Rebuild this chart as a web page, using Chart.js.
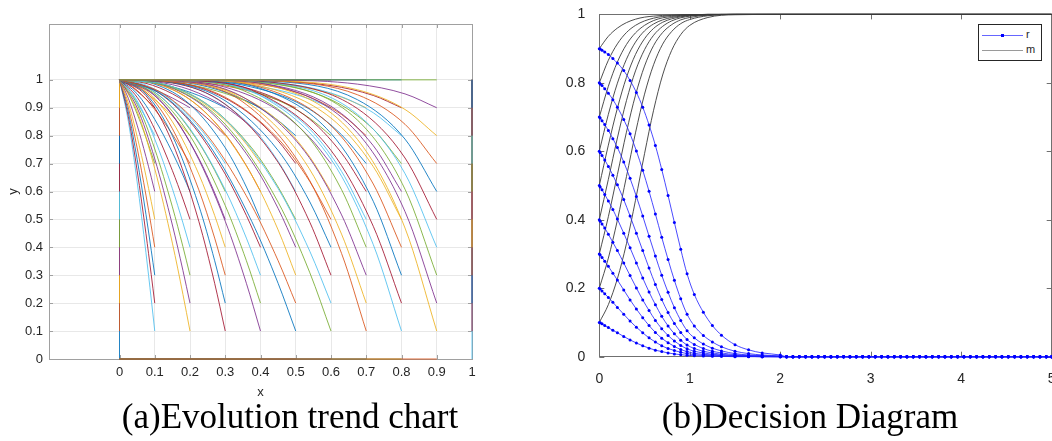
<!DOCTYPE html>
<html>
<head>
<meta charset="utf-8">
<script src="https://cdn.jsdelivr.net/npm/chart.js@4.4.1/dist/chart.umd.min.js"></script>
<style>
  html, body { margin: 0; padding: 0; background: #fff; width: 1052px; height: 441px; overflow: hidden; }
  body { position: relative; }
  .panel { position: absolute; top: 0; }
  #leftPanel { left: 0; }
  #rightPanel { left: 550px; }
  .caption {
    position: absolute; top: 399px; width: 400px; text-align: center;
    font-family: "Liberation Serif", "Times New Roman", serif; font-size: 35px; line-height: 35px;
    color: #000; white-space: nowrap;
  }
  #legend {
    position: absolute; left: 978px; top: 24px; width: 64px; height: 37px; box-sizing: border-box;
    border: 1px solid #262626; background: #fff;
    font-family: "Liberation Sans", Arial, sans-serif; font-size: 11px; color: #262626;
  }
  #legend .line { position: absolute; left: 3px; width: 41px; height: 0; }
  #legend .dot { position: absolute; left: 22px; top: 8.5px; width: 3px; height: 3px; background: #0000ff; }
  #legend .label { position: absolute; left: 47px; line-height: 11px; }
</style>
</head>
<body>
<div class="panel" id="leftPanel"><canvas id="evolutionChart" width="490" height="400"></canvas></div>
<div class="panel" id="rightPanel"><canvas id="decisionChart" width="520" height="400"></canvas></div>

<div id="legend">
  <div class="line" style="top:10px;border-top:1px solid #6666ff;"></div>
  <div class="dot"></div>
  <div class="label" style="top:4px;">r</div>
  <div class="line" style="top:25px;border-top:1px solid #9a9a9a;"></div>
  <div class="label" style="top:19px;">m</div>
</div>

<div class="caption" style="left:90px;">(a)Evolution trend chart</div>
<div class="caption" style="left:610px;">(b)Decision Diagram</div>

<script>
// ---- (a) evolution trend: start points on a 0..1 grid, every path runs to (0,1)
const gridSteps = [0, 0.1, 0.2, 0.3, 0.4, 0.5, 0.6, 0.7, 0.8, 0.9, 1];

// normalised drop (1 - y) / (1 - y0) along the path, read at these fractions of x0
const shapeFrac = [0, 0.25, 0.5, 0.75, 0.9, 1];
const dropK13 = [0, 0.165, 0.406, 0.688, 0.872, 1];
const dropK15 = [0, 0.125, 0.354, 0.650, 0.854, 1];
const dropK20 = [0, 0.063, 0.250, 0.563, 0.810, 1];
const dropK25 = [0, 0.031, 0.177, 0.487, 0.768, 1];
const dropK30 = [0, 0.016, 0.125, 0.422, 0.729, 1];
const dropK35 = [0, 0.008, 0.088, 0.365, 0.691, 1];
const dropK40 = [0, 0.004, 0.063, 0.316, 0.656, 1];
const dropK45 = [0, 0.002, 0.044, 0.274, 0.622, 1];
const dropK50 = [0, 0.001, 0.031, 0.237, 0.590, 1];
const dropK55 = [0, 0.000, 0.022, 0.206, 0.560, 1];
const dropK60 = [0, 0.000, 0.016, 0.178, 0.531, 1];
const dropK65 = [0, 0.000, 0.011, 0.154, 0.504, 1];

// which profile each interior start point follows (rows x0 = 0.1..0.9, cols y0 = 0.1..0.9)
const curveShape = [
  [0, 0, 0, 0, 0, 0, 0, 0, 0],
  [1, 1, 1, 1, 1, 1, 1, 1, 1],
  [2, 2, 2, 2, 2, 2, 2, 2, 2],
  [2, 2, 2, 2, 3, 3, 3, 3, 3],
  [2, 2, 3, 3, 3, 4, 4, 4, 4],
  [3, 3, 4, 4, 4, 5, 5, 5, 5],
  [5, 5, 5, 6, 6, 6, 6, 7, 7],
  [6, 6, 7, 7, 7, 8, 8, 8, 9],
  [8, 8, 9, 9, 9, 10, 10, 10, 11]
];

// ---- (b) decision diagram
const rTimes = [0, 0.01, 0.03, 0.06, 0.1, 0.15, 0.2, 0.27, 0.34, 0.41, 0.48, 0.55, 0.62, 0.69, 0.76, 0.83, 0.9, 0.97, 1.05, 1.15, 1.25, 1.35, 1.5, 1.65, 1.8, 2.0];
const r09 = [0.900, 0.899, 0.895, 0.890, 0.883, 0.871, 0.858, 0.836, 0.807, 0.772, 0.729, 0.677, 0.617, 0.547, 0.471, 0.392, 0.314, 0.242, 0.182, 0.130, 0.091, 0.063, 0.035, 0.020, 0.011, 0.005];
const r08 = [0.800, 0.797, 0.792, 0.783, 0.770, 0.751, 0.729, 0.693, 0.651, 0.601, 0.545, 0.483, 0.417, 0.349, 0.284, 0.223, 0.169, 0.124, 0.090, 0.062, 0.043, 0.029, 0.016, 0.009, 0.005, 0.002];
const r07 = [0.700, 0.697, 0.689, 0.678, 0.661, 0.637, 0.611, 0.569, 0.521, 0.468, 0.411, 0.352, 0.294, 0.238, 0.188, 0.143, 0.106, 0.076, 0.055, 0.037, 0.025, 0.017, 0.009, 0.005, 0.003, 0.001];
const r06 = [0.600, 0.596, 0.588, 0.575, 0.556, 0.530, 0.502, 0.459, 0.411, 0.361, 0.310, 0.259, 0.211, 0.167, 0.129, 0.097, 0.071, 0.050, 0.036, 0.024, 0.016, 0.011, 0.006, 0.003, 0.002, 0.001];
const r05 = [0.500, 0.496, 0.488, 0.474, 0.455, 0.430, 0.402, 0.361, 0.318, 0.274, 0.230, 0.189, 0.152, 0.118, 0.090, 0.067, 0.048, 0.034, 0.024, 0.016, 0.011, 0.007, 0.004, 0.002, 0.001, 0.001];
const r04 = [0.400, 0.396, 0.388, 0.376, 0.358, 0.334, 0.310, 0.274, 0.237, 0.201, 0.166, 0.135, 0.106, 0.082, 0.062, 0.046, 0.033, 0.023, 0.016, 0.011, 0.007, 0.005, 0.003, 0.001, 0.001, 0];
const r03 = [0.300, 0.297, 0.290, 0.279, 0.264, 0.244, 0.224, 0.195, 0.166, 0.139, 0.114, 0.091, 0.071, 0.054, 0.041, 0.030, 0.021, 0.015, 0.010, 0.007, 0.005, 0.003, 0.002, 0.001, 0, 0];
const r02 = [0.200, 0.198, 0.192, 0.184, 0.173, 0.159, 0.144, 0.124, 0.104, 0.086, 0.070, 0.055, 0.043, 0.032, 0.024, 0.018, 0.013, 0.009, 0.006, 0.004, 0.003, 0.002, 0.001, 0.001, 0, 0];
const r01 = [0.100, 0.099, 0.096, 0.091, 0.085, 0.077, 0.070, 0.059, 0.049, 0.040, 0.032, 0.025, 0.019, 0.015, 0.011, 0.008, 0.006, 0.004, 0.003, 0.002, 0.001, 0.001, 0, 0, 0, 0];
// solver steps after t = 2, where every r has settled at 0
const rTailTimes = [2.07, 2.14, 2.21, 2.28, 2.35, 2.42, 2.49, 2.56, 2.63, 2.7, 2.77, 2.84, 2.91, 2.98, 3.05, 3.12, 3.19, 3.26, 3.33, 3.4, 3.47, 3.54, 3.61, 3.68, 3.75, 3.82, 3.89, 3.96, 4.03, 4.1, 4.17, 4.24, 4.31, 4.38, 4.45, 4.52, 4.59, 4.66, 4.73, 4.8, 4.87, 4.94, 5.0];
const rTailValues = [0, 0, 0, 0, 0, 0, 0, 0, 0, 0, 0, 0, 0, 0, 0, 0, 0, 0, 0, 0, 0, 0, 0, 0, 0, 0, 0, 0, 0, 0, 0, 0, 0, 0, 0, 0, 0, 0, 0, 0, 0, 0, 0];

const mTimes = [0, 0.1, 0.2, 0.3, 0.4, 0.5, 0.6, 0.7, 0.8, 0.9, 1.0, 1.2, 1.5, 2.0, 5.0];
const m01 = [0.1, 0.152, 0.228, 0.330, 0.457, 0.593, 0.720, 0.823, 0.895, 0.941, 0.968, 0.991, 0.999, 1, 1];
const m02 = [0.2, 0.288, 0.399, 0.526, 0.654, 0.767, 0.853, 0.913, 0.950, 0.973, 0.985, 0.996, 1, 1, 1];
const m03 = [0.3, 0.409, 0.532, 0.656, 0.764, 0.849, 0.909, 0.947, 0.970, 0.984, 0.991, 0.998, 1, 1, 1];
const m04 = [0.4, 0.518, 0.639, 0.748, 0.835, 0.897, 0.939, 0.965, 0.981, 0.990, 0.995, 0.999, 1, 1, 1];
const m05 = [0.5, 0.618, 0.726, 0.816, 0.883, 0.929, 0.959, 0.977, 0.987, 0.993, 0.996, 0.999, 1, 1, 1];
const m06 = [0.6, 0.708, 0.799, 0.869, 0.919, 0.952, 0.972, 0.984, 0.991, 0.995, 0.998, 0.999, 1, 1, 1];
const m07 = [0.7, 0.790, 0.861, 0.912, 0.946, 0.968, 0.982, 0.990, 0.994, 0.997, 0.998, 1, 1, 1, 1];
const m08 = [0.8, 0.866, 0.914, 0.947, 0.968, 0.981, 0.989, 0.994, 0.997, 0.998, 0.999, 1, 1, 1, 1];
const m09 = [0.9, 0.936, 0.960, 0.976, 0.986, 0.992, 0.995, 0.997, 0.998, 0.999, 0.999, 1, 1, 1, 1];

const decisionXTicks = [0, 1, 2, 3, 4, 5];
const decisionYTicks = [0, 0.2, 0.4, 0.6, 0.8, 1];

// MATLAB default line colours, a little faded like the scan
const palette = ['rgba(0,114,189,0.85)', 'rgba(217,83,25,0.85)', 'rgba(237,177,32,0.85)', 'rgba(126,47,142,0.85)',
                 'rgba(119,172,48,0.85)', 'rgba(77,190,238,0.85)', 'rgba(162,20,47,0.85)'];

Chart.defaults.font.family = "'Liberation Sans', Arial, sans-serif";
Chart.defaults.color = '#262626';

// box round the plot area with short inward ticks, MATLAB style
const frameBox = {
  id: 'frameBox',
  beforeDatasetsDraw(chart, args, opts) {
    const { ctx, chartArea: a, scales } = chart;
    const len = opts.tick || 4;
    ctx.save();
    ctx.strokeStyle = opts.color || '#808080';
    ctx.lineWidth = 1;
    ctx.strokeRect(Math.round(a.left) + 0.5, Math.round(a.top) + 0.5, Math.round(a.width), Math.round(a.height));
    ctx.beginPath();
    scales.x.ticks.forEach(t => {
      const px = Math.round(scales.x.getPixelForValue(t.value)) + 0.5;
      ctx.moveTo(px, a.bottom); ctx.lineTo(px, a.bottom - len);
      ctx.moveTo(px, a.top); ctx.lineTo(px, a.top + len);
    });
    scales.y.ticks.forEach(t => {
      const py = Math.round(scales.y.getPixelForValue(t.value)) + 0.5;
      ctx.moveTo(a.left, py); ctx.lineTo(a.left + len, py);
      ctx.moveTo(a.right, py); ctx.lineTo(a.right - len, py);
    });
    ctx.stroke();
    ctx.restore();
  }
};

// Build evolution paths
const dropProfiles = [dropK13, dropK15, dropK20, dropK25, dropK30, dropK35, dropK40, dropK45, dropK50, dropK55, dropK60, dropK65];
const evolutionSets = [];
let colorIndex = 0;
gridSteps.forEach((x0, i) => {
  gridSteps.forEach((y0, j) => {
    let pts;
    let curved = false;
    if (x0 === 0) {
      pts = [{ x: 0, y: y0 }, { x: 0, y: 1 }];
    } else if (x0 === 1) {
      pts = [{ x: 1, y: y0 }, { x: 1, y: 1 }];
    } else if (y0 === 0) {
      pts = [{ x: 0, y: 0 }, { x: x0, y: 0 }];
    } else if (y0 === 1) {
      pts = [{ x: 0, y: 1 }, { x: x0, y: 1 }];
    } else {
      const drop = dropProfiles[curveShape[i - 1][j - 1]];
      pts = shapeFrac.map((s, k) => ({ x: x0 * s, y: 1 - (1 - y0) * drop[k] }));
      curved = true;
    }
    // later paths sit on top, as in the original plot
    evolutionSets.unshift({
      data: pts,
      borderColor: palette[colorIndex % palette.length],
      borderWidth: 1,
      pointRadius: 0,
      tension: 0,
      cubicInterpolationMode: curved ? 'monotone' : 'default',
      clip: false
    });
    colorIndex++;
  });
});

new Chart(document.getElementById('evolutionChart'), {
  type: 'line',
  data: { datasets: evolutionSets },
  options: {
    responsive: false,
    animation: false,
    events: [],
    layout: { padding: { top: 24, right: 18, left: 0, bottom: 0 } },
    plugins: {
      legend: { display: false },
      tooltip: { enabled: false },
      frameBox: { color: '#a0a0a0', tick: 4 }
    },
    scales: {
      x: {
        type: 'linear', min: -0.2, max: 1,
        afterBuildTicks: s => { s.ticks = gridSteps.map(v => ({ value: v })); },
        afterFit: s => { s.height = 41; },
        grid: { color: '#e8e8e8', drawTicks: false },
        border: { display: false },
        ticks: { padding: 6, autoSkip: false, maxRotation: 0, font: { size: 13 }, callback: v => String(v) },
        title: { display: true, text: 'x', padding: 0, font: { size: 13 } }
      },
      y: {
        type: 'linear', min: 0, max: 1.2,
        afterBuildTicks: s => { s.ticks = gridSteps.map(v => ({ value: v })); },
        afterFit: s => { s.width = 49; },
        grid: { color: '#e8e8e8', drawTicks: false },
        border: { display: false },
        ticks: { padding: 6, autoSkip: false, font: { size: 13 }, callback: v => String(v) },
        title: { display: true, text: 'y', padding: { top: 6, bottom: 0 }, font: { size: 13 } }
      }
    }
  },
  plugins: [frameBox]
});

// Build decision curves
function toPoints(times, values) {
  return times.map((t, k) => ({ x: t, y: values[k] }));
}

const rSeries = [r09, r08, r07, r06, r05, r04, r03, r02, r01];
const mSeries = [m01, m02, m03, m04, m05, m06, m07, m08, m09];

const decisionSets = [];
rSeries.forEach((vals, k) => {
  decisionSets.push({
    label: k === 0 ? 'r' : '',
    data: toPoints(rTimes.concat(rTailTimes), vals.concat(rTailValues)),
    borderColor: 'rgba(30,30,255,0.8)',
    borderWidth: 1,
    pointRadius: 1.5,
    pointBackgroundColor: '#0000ff',
    pointBorderWidth: 0,
    cubicInterpolationMode: 'monotone',
    clip: false
  });
});
mSeries.forEach((vals, k) => {
  decisionSets.push({
    label: k === 0 ? 'm' : '',
    data: toPoints(mTimes, vals),
    borderColor: '#3a3a3a',
    borderWidth: 0.9,
    pointRadius: 0,
    cubicInterpolationMode: 'monotone',
    clip: false
  });
});

new Chart(document.getElementById('decisionChart'), {
  type: 'line',
  data: { datasets: decisionSets },
  options: {
    responsive: false,
    animation: false,
    events: [],
    layout: { padding: { top: 14.3, right: 18.3, left: 0, bottom: 0 } },
    plugins: {
      legend: { display: false },
      tooltip: { enabled: false },
      frameBox: { color: '#707070', tick: 5 }
    },
    scales: {
      x: {
        type: 'linear', min: 0, max: 5,
        afterBuildTicks: s => { s.ticks = decisionXTicks.map(v => ({ value: v })); },
        afterFit: s => { s.height = 43.3; },
        grid: { display: false },
        border: { display: false },
        ticks: { padding: 6, autoSkip: false, maxRotation: 0, font: { size: 14 }, callback: v => String(v) }
      },
      y: {
        type: 'linear', min: 0, max: 1,
        afterBuildTicks: s => { s.ticks = decisionYTicks.map(v => ({ value: v })); },
        afterFit: s => { s.width = 49.3; },
        grid: { display: false },
        border: { display: false },
        ticks: { padding: 6, autoSkip: false, font: { size: 14 }, callback: v => String(v) }
      }
    }
  },
  plugins: [frameBox]
});
</script>
</body>
</html>
